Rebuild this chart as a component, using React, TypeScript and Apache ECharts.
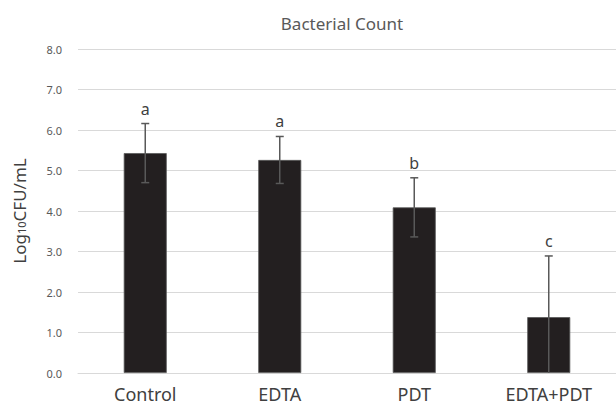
import React, { useEffect, useRef } from "react";
import * as echarts from "echarts";

const categories = ["Control", "EDTA", "PDT", "EDTA+PDT"];
const means = [5.43, 5.26, 4.09, 1.38];
const sds = [0.73, 0.58, 0.73, 1.51];
const letters = ["a", "a", "b", "c"];
const yTicks = { min: 0, max: 8, interval: 1 };
const title = "Bacterial Count";

const FONT = "'Noto Sans', 'Open Sans', sans-serif";

export default function App() {
  const ref = useRef<HTMLDivElement>(null);
  useEffect(() => {
    if (!ref.current) return;
    const chart = echarts.init(ref.current, undefined, { renderer: "svg" });
    const errData = categories.map((_, i) => [i, means[i], sds[i], letters[i]]);
    chart.setOption({
      animation: false,
      backgroundColor: "#ffffff",
      textStyle: { fontFamily: FONT },
      graphic: [
        {
          type: "text",
          x: 342,
          y: 23,
          style: {
            text: title,
            fontFamily: FONT,
            fontSize: 17,
            fill: "#595959",
            textAlign: "center",
            textVerticalAlign: "middle",
          },
        },
      ],
      grid: { left: 78, top: 49, width: 547, bottom: 35 },
      xAxis: {
        type: "category",
        data: categories,
        axisLine: { show: true, lineStyle: { color: "#d9d9d9", width: 1 } },
        axisTick: { show: false },
        axisLabel: {
          color: "#404040",
          fontSize: 18,
          lineHeight: 16,
          fontFamily: FONT,
          margin: 13,
        },
      },
      yAxis: {
        type: "value",
        min: yTicks.min,
        max: yTicks.max,
        interval: yTicks.interval,
        axisLine: { show: false },
        axisTick: { show: false },
        splitLine: { lineStyle: { color: "#d9d9d9", width: 1 } },
        axisLabel: {
          color: "#595959",
          fontSize: 11,
          fontFamily: FONT,
          margin: 16,
          formatter: (v: number) => v.toFixed(1),
        },
        name: "{a|Log}{s|10}{a|CFU/mL}",
        nameLocation: "middle",
        nameRotate: 90,
        nameGap: 50,
        nameTextStyle: {
          rich: {
            a: { fontSize: 17, color: "#404040", fontFamily: FONT, lineHeight: 20, verticalAlign: "bottom" },
            s: { fontSize: 11, color: "#404040", fontFamily: FONT, lineHeight: 12, verticalAlign: "bottom", padding: [0, 0, 1, 0] },
          },
        },
      },
      series: [
        {
          type: "bar",
          data: means,
          barWidth: 43,
          itemStyle: { color: "#231f20", borderColor: "#595959", borderWidth: 0.8 },
          z: 2,
        },
        {
          type: "custom",
          data: errData,
          z: 3,
          renderItem: (params: any, api: any) => {
            const i = api.value(0);
            const m = api.value(1);
            const sd = api.value(2);
            const letter = letters[params.dataIndex];
            const hiV = m + sd;
            const loRaw = m - sd;
            const loV = Math.max(0, loRaw);
            const top = api.coord([i, hiV]);
            const bot = api.coord([i, loV]);
            const capW = 4;
            const style = { stroke: "#595959", lineWidth: 1.5 };
            const children: any[] = [
              { type: "line", shape: { x1: top[0], y1: top[1], x2: bot[0], y2: bot[1] }, style },
              { type: "line", shape: { x1: top[0] - capW, y1: top[1], x2: top[0] + capW, y2: top[1] }, style },
            ];
            if (loRaw >= 0) {
              children.push({ type: "line", shape: { x1: bot[0] - capW, y1: bot[1], x2: bot[0] + capW, y2: bot[1] }, style });
            }
            children.push({
              type: "text",
              x: top[0],
              y: top[1] - 7,
              style: {
                text: letter,
                fontFamily: FONT,
                fontSize: 16,
                fill: "#404040",
                textAlign: "center",
                textVerticalAlign: "bottom",
              },
            });
            return { type: "group", children };
          },
        },
      ],
    });
    return () => chart.dispose();
  }, []);
  return (
    <div
      ref={ref}
      style={{ position: "fixed", left: 0, top: 0, width: 616, height: 408, background: "#fff" }}
    />
  );
}
